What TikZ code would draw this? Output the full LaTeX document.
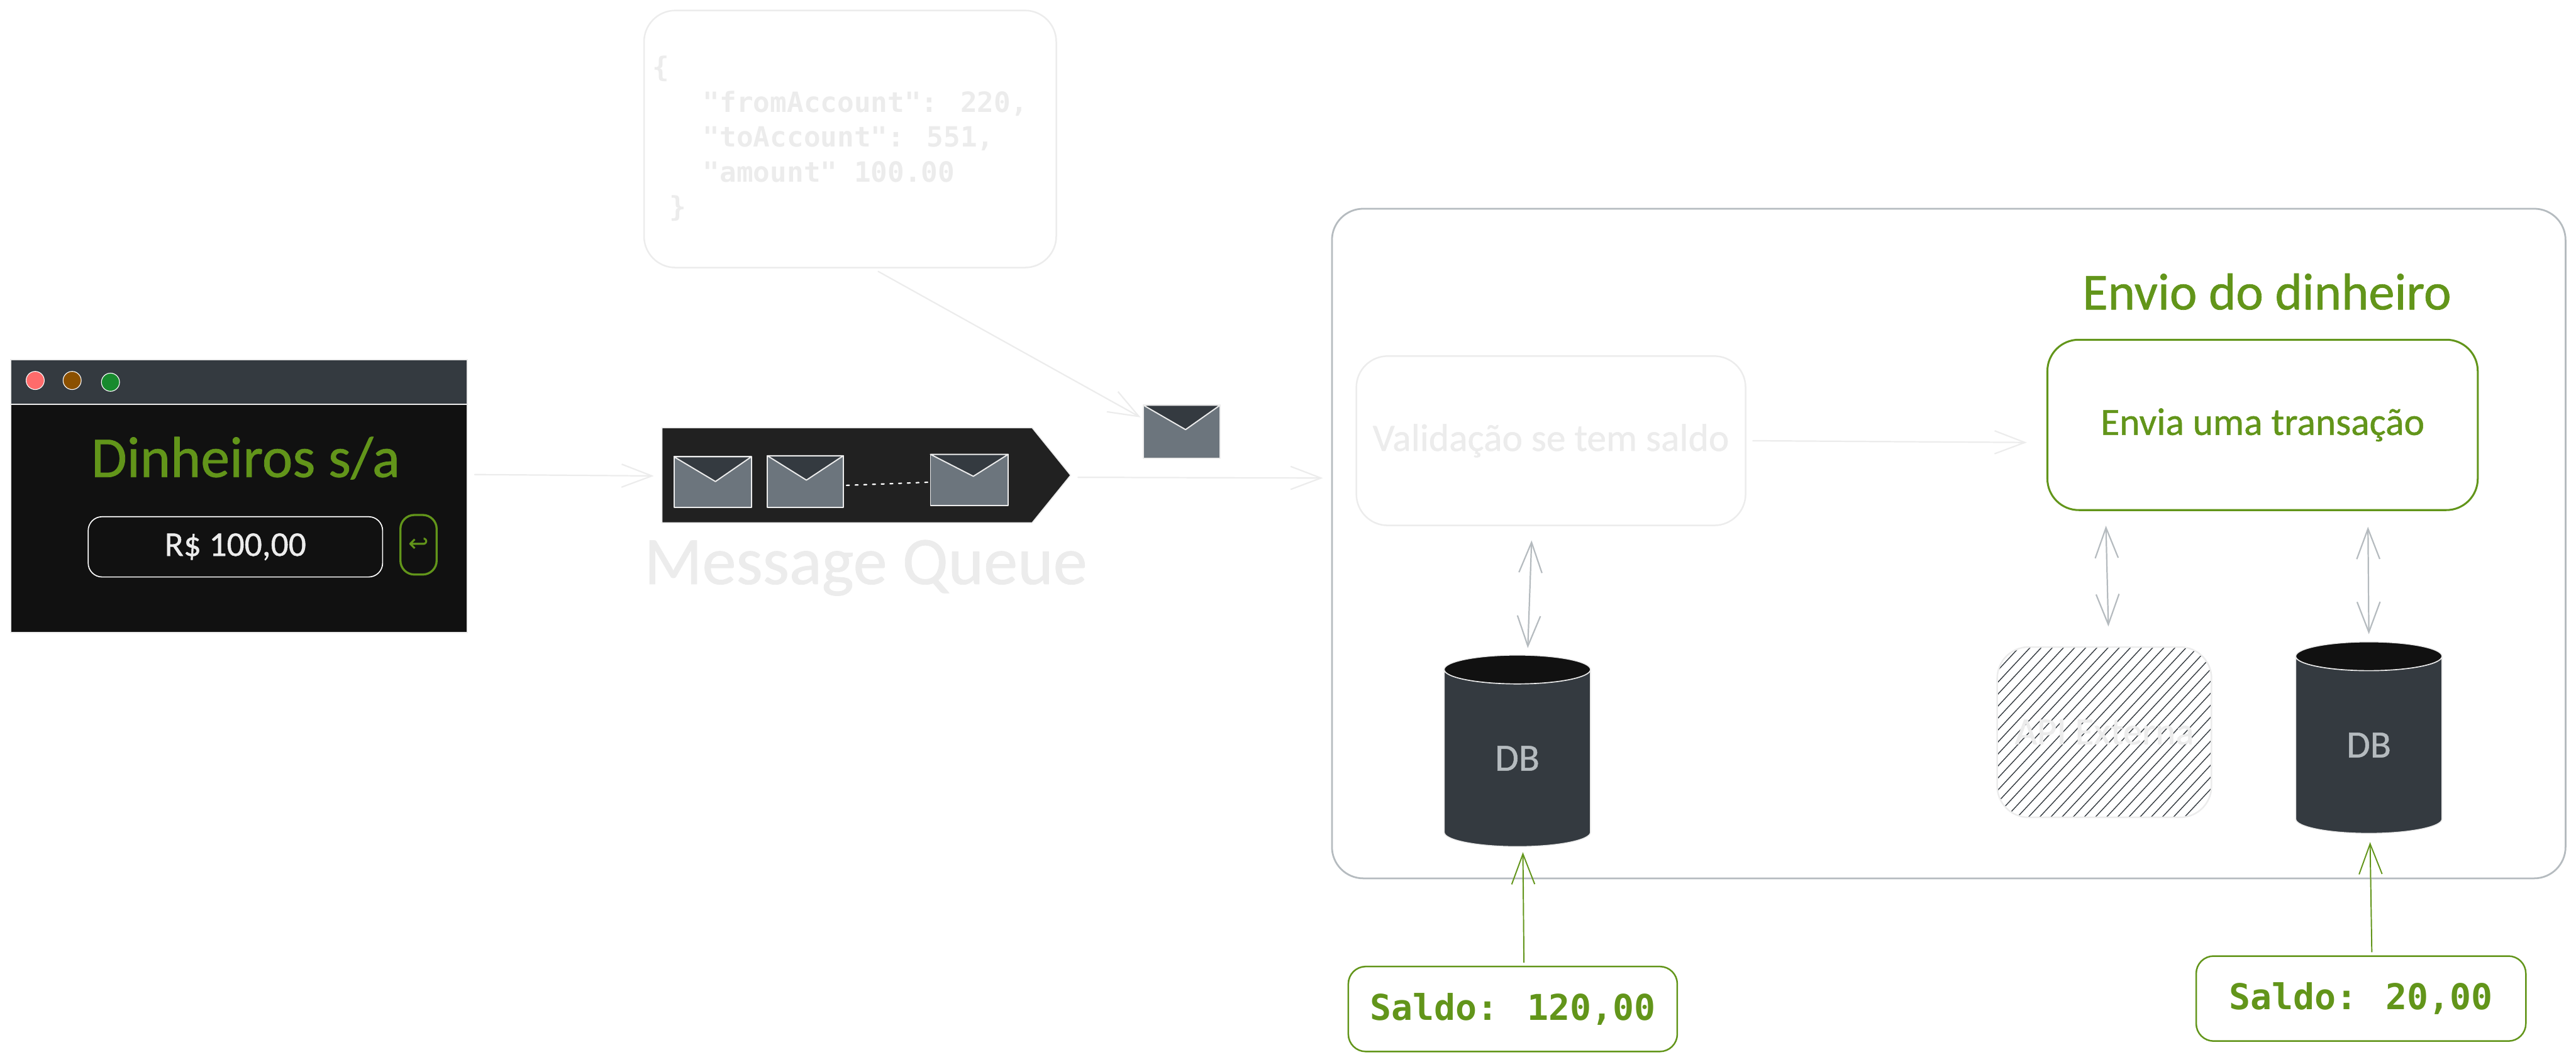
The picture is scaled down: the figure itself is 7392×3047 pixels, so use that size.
\documentclass[tikz,border=0pt]{standalone}
\usepackage{fontspec}
\usetikzlibrary{arrows.meta,calc,shapes.geometric,shapes.symbols}
\newfontfamily\handfont[FakeBold=0.8]{Carlito}
\newfontfamily\codefont{DejaVu Sans Mono}
\newfontfamily\glyphfont{DejaVu Sans}
\newcommand{\handsize}[1]{\fontsize{#1}{#1}\handfont\selectfont}
\newcommand{\codesize}[2]{\fontsize{#1}{#2}\codefont\bfseries\selectfont}
\definecolor{ghost}{HTML}{ECECEC}
\definecolor{steel}{HTML}{B5BBBF}
\definecolor{lime}{HTML}{62951A}
\definecolor{slate}{HTML}{343A40}
\definecolor{ink}{HTML}{111111}
\definecolor{queuefill}{HTML}{212121}
\definecolor{mail}{HTML}{6C757D}
\tikzset{
  box/.style={draw,rectangle,inner sep=0pt,outer sep=0pt},
  roundbox/.style={box,rounded corners=9pt,line width=.45pt},
  ghostbox/.style={roundbox,draw=ghost,text=ghost},
  limebox/.style={roundbox,draw=lime,text=lime},
  envelope/.style={box,fill=mail,draw=ghost,line width=.35pt},
  flap/.style={fill=slate,draw=ghost,line width=.35pt},
  lamp/.style={draw=white,circle,inner sep=0pt,outer sep=0pt,minimum size=5.2pt,line width=.2pt},
  dbcyl/.style={cylinder,shape border rotate=90,aspect=.65,draw=ghost,line width=.3pt,
    cylinder uses custom fill,cylinder body fill=slate,cylinder end fill=ink,
    inner sep=0pt,outer sep=0pt,minimum width=42pt,minimum height=55pt,
    text=steel,font=\handsize{11}},
  barb/.tip={Straight Barb[length=8.7pt,width=6.6pt]},
  ghostflow/.style={-barb,draw=ghost,line width=.4pt},
  duplex/.style={barb-barb,draw=steel,line width=.4pt},
  limeflow/.style={-barb,draw=lime,line width=.35pt}
}
\begin{document}
\begin{tikzpicture}[line cap=round,line join=round,x=0.1pt,y=-0.1pt]
\useasboundingbox (0,0) rectangle (7392,3047);

\node[box,fill=ink,draw=ghost,line width=.3pt,minimum width=131pt,minimum height=78.4pt] (window) at (686,1424) {};
\node[box,fill=slate,draw=ghost,line width=.3pt,minimum width=131pt,minimum height=12.8pt] (titlebar) at (686,1096) {};
\foreach \n/\cx/\cy/\col in {close/101/1092/FF6B6B,hide/207/1092/8B5000,zoom/317/1097/188A2E} {
  \definecolor{lampcolor}{HTML}{\col}
  \node[lamp,fill=lampcolor] (\n) at (\cx,\cy) {};
}
\node[text=lime,font=\handsize{16.6}] (brand) at (705,1315) {Dinheiros s/a};
\node[box,rounded corners=4pt,draw=white,line width=.3pt,minimum width=84.5pt,minimum height=17.3pt,text=ghost,font=\handsize{10}] (amount) at (675.5,1569.5) {\raisebox{-1pt}{R\$ 100,00}};
\node[box,rounded corners=4pt,draw=lime,line width=.6pt,minimum width=10.4pt,minimum height=17.1pt,text=lime,font=\fontsize{7}{7}\glyphfont\selectfont] (send) at (1201,1563.5) {↩};

\node[ghostbox,minimum width=118.3pt,minimum height=73.8pt] (json) at (2439.5,399) {};
\node[anchor=west,inner sep=0pt,text=ghost,align=left,font=\codesize{8}{10}] (payload) at (1871,398) {\{\\
\hspace*{14.45pt}"fromAccount": 220,\\
\hspace*{14.45pt}"toAccount": 551,\\
\hspace*{14.45pt}"amount" 100.00\\
\hspace*{4.8pt}\}};

\node[signal,signal to=east,signal pointer angle=102,draw=ghost,fill=queuefill,line width=.3pt,inner sep=0pt,outer sep=0pt,minimum width=117.3pt,minimum height=27.3pt] (queue) at (2430.5,1364) {};
\foreach \n/\cx/\cy/\w/\h/\vx/\vy in {1/2045/1383.5/222/145/8/71,2/2311/1382/218/148/3/70,3/2781.5/1377.5/223/147/11.5/63,4/3391/1239/220/152/11/70} {
  \node[envelope,minimum width=\w*0.1pt,minimum height=\h*0.1pt] (msg\n) at (\cx,\cy) {};
  \draw[flap] (msg\n.north west) -- ($(msg\n.north)+(\vx,\vy)$) -- (msg\n.north east) -- cycle;
}
\draw[white,line width=.4pt,dash pattern=on 0.8pt off 1.7pt] ([xshift=.9pt,yshift=-1.1pt]msg2.east) -- ([xshift=-.3pt,yshift=-.65pt]msg3.west);
\node[text=ghost,font=\handsize{19.5}] (queuename) at (2484,1630) {Message Queue};

\node[roundbox,draw=steel,line width=.5pt,minimum width=354pt,minimum height=192.2pt] (service) at (5592,1560) {};
\node[ghostbox,minimum width=111.7pt,minimum height=48.6pt,font=\handsize{11.1}] (validate) at (4450.5,1265) {Validação se tem saldo};
\node[dbcyl] (dbsaldo) at (4354,2176.5) {DB};

\node[limebox,line width=.55pt,minimum width=123.5pt,minimum height=48.9pt,font=\handsize{11.1}] (transfer) at (6492.5,1219.5) {Envia uma transação};
\node[text=lime,font=\handsize{14.9}] (transfertitle) at (6505,837) {Envio do dinheiro};

\begin{scope}
\clip[rounded corners=9pt] (5731,1857) rectangle (6346,2346);
\foreach \i in {0,...,34} {
  \draw[slate,line width=.25pt] ({5276+32*\i},2346) -- ({5731+32*\i},1857);
}
\end{scope}
\node[ghostbox,minimum width=61.5pt,minimum height=48.9pt,font=\handsize{11}] (api) at (6038.5,2101.5) {API Externa};
\node[dbcyl] (dbdest) at (6797.5,2138.5) {DB};

\node[limebox,rounded corners=5pt,minimum width=94.4pt,minimum height=24.4pt,font=\codesize{10.2}{12}] (saldoa) at (4341,2896) {Saldo: 120,00};
\node[limebox,rounded corners=5pt,minimum width=94.6pt,minimum height=24.4pt,font=\codesize{10.2}{12}] (saldob) at (6775,2866) {Saldo: 20,00};

\draw[ghostflow] ([xshift=2.1pt,yshift=6.2pt]window.east) -- ([xshift=-2.3pt,yshift=-.2pt]queue.west);
\draw[ghostflow] ([xshift=8.05pt,yshift=-1.1pt]json.south) -- ([xshift=-.8pt,yshift=-3.5pt]msg4.north west);
\draw[ghostflow] ([xshift=2.1pt,yshift=-.6pt]queue.east) -- ([xshift=-2.6pt,yshift=18.8pt]service.west);
\draw[ghostflow] ([xshift=2.1pt]validate.east) -- ([xshift=-5.9pt,yshift=-5.05pt]transfer.west);
\draw[duplex] ([xshift=-5.55pt,yshift=-4.3pt]validate.south) -- ([xshift=3pt,yshift=2pt]dbsaldo.north);
\draw[duplex] ([xshift=-44.95pt,yshift=-4.5pt]transfer.south) -- ([xshift=1.15pt,yshift=5.9pt]api.north);
\draw[duplex] ([xshift=30.25pt,yshift=-4.8pt]transfer.south) -- ([yshift=2.2pt]dbdest.north);
\draw[limeflow] ([xshift=3.2pt,yshift=1.2pt]saldoa.north) -- ([xshift=1.6pt,yshift=-1.6pt]dbsaldo.south);
\draw[limeflow] ([xshift=3.1pt,yshift=1.2pt]saldob.north) -- ([xshift=.35pt,yshift=-2.5pt]dbdest.south);
\end{tikzpicture}
\end{document}
